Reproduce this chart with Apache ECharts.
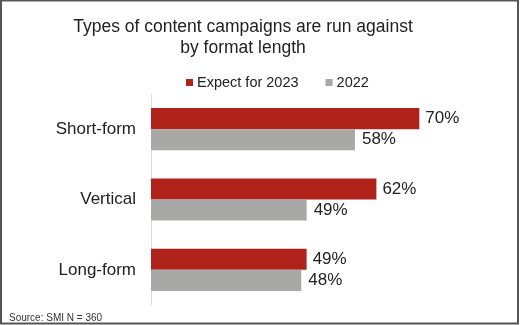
<!DOCTYPE html>
<html>
<head>
<meta charset="utf-8">
<script src="https://cdn.jsdelivr.net/npm/echarts@6/dist/echarts.min.js"></script>
<style>
html,body{margin:0;padding:0;background:#fff;}
#chart{width:520px;height:325px;}
</style>
</head>
<body>
<div id="chart"></div>
<script>
var categories = ['Short-form', 'Vertical', 'Long-form'];
var expect2023 = [70, 62, 49];
var values2022 = [58, 49, 48];
var seriesNames = ['Expect for 2023', '2022'];
var titleLines = ['Types of content campaigns are run against', 'by format length'];
var sourceText = 'Source: SMI N = 360';

var FONT = '"Liberation Sans", Arial, sans-serif';
var chart = echarts.init(document.getElementById('chart'), null, {renderer: 'canvas'});
chart.setOption({
  animation: false,
  backgroundColor: '#fff',
  title: {
    text: titleLines.join('\n'),
    left: 238,
    textAlign: 'center',
    top: 12,
    textStyle: {fontFamily: FONT, fontSize: 17.5, fontWeight: 'normal', color: '#222', lineHeight: 21}
  },
  legend: {
    data: seriesNames,
    left: 181,
    top: 70,
    itemWidth: 7,
    itemHeight: 7,
    itemGap: 27,
    icon: 'rect',
    textStyle: {fontFamily: FONT, fontSize: 14.5, color: '#222', padding: [0, 0, 0, -1]}
  },
  grid: {left: 151, right: 47, top: 94, bottom: 20, containLabel: false},
  xAxis: {
    type: 'value', min: 20, max: 80,
    show: false
  },
  yAxis: {
    type: 'category', data: categories, inverse: true,
    axisLine: {show: true, lineStyle: {color: '#dcdcdc', width: 1}},
    axisTick: {show: false},
    axisLabel: {fontFamily: FONT, fontSize: 17, color: '#222', margin: 15}
  },
  series: [
    {
      name: seriesNames[0], type: 'bar', data: expect2023,
      barGap: '0%', barCategoryGap: '40%',
      itemStyle: {color: '#b0231b'},
      label: {show: true, position: 'right', distance: 6, formatter: '{c}%', fontFamily: FONT, fontSize: 17, color: '#222'}
    },
    {
      name: seriesNames[1], type: 'bar', data: values2022,
      barGap: '0%', barCategoryGap: '40%',
      itemStyle: {color: '#a8a8a6'},
      label: {show: true, position: 'right', distance: 7, formatter: '{c}%', fontFamily: FONT, fontSize: 17, color: '#222'}
    }
  ],
  graphic: [
    {type: 'text', left: 9, top: 313, style: {text: sourceText, fontFamily: FONT, fontSize: 10, fill: '#333'}},
    {type: 'rect', shape: {x: 1, y: 0.5, width: 517, height: 323}, style: {fill: 'none', stroke: '#555', lineWidth: 2}, silent: true}
  ]
});
</script>
</body>
</html>
